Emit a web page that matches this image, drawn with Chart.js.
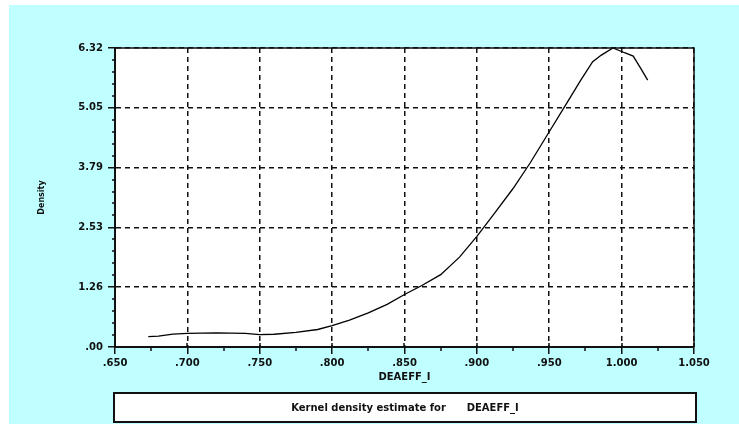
<!DOCTYPE html>
<html>
<head>
<meta charset="utf-8">
<title>Kernel density estimate for DEAEFF_I</title>
<script src="https://cdn.jsdelivr.net/npm/chart.js@4.4.0/dist/chart.umd.min.js"></script>
<style>
  html, body { margin: 0; padding: 0; background: #fff; }
  #wrap { position: relative; width: 739px; height: 424px; }
</style>
</head>
<body>
<div id="wrap"><canvas id="kde" width="739" height="424"></canvas></div>
<script>
// values
const efficiency = [0.673, 0.680, 0.690, 0.700, 0.720, 0.740, 0.750, 0.760, 0.775, 0.790,
                    0.800, 0.812, 0.825, 0.838, 0.850, 0.862, 0.875, 0.888, 0.900, 0.912,
                    0.925, 0.937, 0.950, 0.962, 0.972, 0.980, 0.986, 0.994, 1.002, 1.008,
                    1.013, 1.018];
const density = [0.22, 0.23, 0.27, 0.29, 0.30, 0.29, 0.26, 0.27, 0.31, 0.37,
                 0.45, 0.57, 0.72, 0.90, 1.11, 1.30, 1.53, 1.90, 2.34, 2.82,
                 3.35, 3.90, 4.55, 5.15, 5.65, 6.03, 6.17, 6.32, 6.22, 6.15,
                 5.90, 5.64];

const xTickValues = [0.65, 0.70, 0.75, 0.80, 0.85, 0.90, 0.95, 1.00, 1.05];
const xTickLabels = ['.650', '.700', '.750', '.800', '.850', '.900', '.950', '1.000', '1.050'];
const yTickValues = [0, 1.264, 2.528, 3.792, 5.056, 6.32];
const yTickLabels = ['.00', '1.26', '2.53', '3.79', '5.05', '6.32'];

const seriesLabel = 'Kernel density estimate for      DEAEFF_I';

const ink = '#111';
const tickFont = { family: 'DejaVu Sans', size: 10, weight: 'bold' };

// background, frame, minor ticks and the boxed caption under the axis
const framePlugin = {
    id: 'frame',
    beforeDraw(chart) {
        const ctx = chart.ctx;
        const a = chart.chartArea;
        ctx.save();
        ctx.fillStyle = 'rgb(191,255,255)';
        ctx.fillRect(9, 5, chart.width - 9, chart.height - 5);
        ctx.fillStyle = '#fff';
        ctx.fillRect(a.left, a.top, a.right - a.left, a.bottom - a.top);
        ctx.restore();
    },
    afterDraw(chart) {
        const ctx = chart.ctx;
        const a = chart.chartArea;
        const xs = chart.scales.x;
        const ys = chart.scales.y;
        ctx.save();
        ctx.strokeStyle = ink;

        // top and right edge of the plot
        ctx.lineWidth = 1.5;
        ctx.beginPath();
        ctx.moveTo(a.left, a.top);
        ctx.lineTo(a.right, a.top);
        ctx.lineTo(a.right, a.bottom);
        ctx.stroke();

        // minor ticks
        ctx.beginPath();
        for (let i = 0; i < xTickValues.length - 1; i++) {
            const px = Math.round(xs.getPixelForValue((xTickValues[i] + xTickValues[i + 1]) / 2));
            ctx.moveTo(px, a.bottom);
            ctx.lineTo(px, a.bottom + 4);
        }
        for (let i = 0; i < yTickValues.length - 1; i++) {
            for (let k = 1; k < 5; k++) {
                const v = yTickValues[i] + (yTickValues[i + 1] - yTickValues[i]) * k / 5;
                const py = Math.round(ys.getPixelForValue(v));
                ctx.moveTo(a.left - 3, py);
                ctx.lineTo(a.left, py);
            }
        }
        // major x ticks poke a little into the plot
        xTickValues.forEach(v => {
            const px = Math.round(xs.getPixelForValue(v));
            ctx.moveTo(px, a.bottom - 4);
            ctx.lineTo(px, a.bottom);
        });
        ctx.stroke();

        // caption box
        const bx = a.left - 1, by = a.bottom + 46;
        const bw = a.right + 2 - bx, bh = chart.height - 2 - by;
        ctx.fillStyle = '#fff';
        ctx.fillRect(bx, by, bw, bh);
        ctx.lineWidth = 2;
        ctx.strokeRect(bx, by, bw, bh);
        ctx.fillStyle = ink;
        ctx.font = 'bold 10px "DejaVu Sans"';
        ctx.textAlign = 'center';
        ctx.textBaseline = 'middle';
        ctx.fillText(chart.data.datasets[0].label, bx + bw / 2, by + bh / 2 + 1);
        ctx.restore();
    }
};

const ctx = document.getElementById('kde').getContext('2d');
new Chart(ctx, {
    type: 'line',
    data: {
        datasets: [{
            label: seriesLabel,
            data: efficiency.map((x, i) => ({ x: x, y: density[i] })),
            borderColor: '#000',
            borderWidth: 1.3,
            pointRadius: 0,
            tension: 0,
            fill: false
        }]
    },
    options: {
        responsive: false,
        animation: false,
        devicePixelRatio: 1,
        layout: { padding: { left: 0, top: 48, right: 45, bottom: 41 } },
        plugins: {
            legend: { display: false },
            tooltip: { enabled: false }
        },
        scales: {
            x: {
                type: 'linear',
                min: 0.65,
                max: 1.05,
                afterBuildTicks: s => { s.ticks = xTickValues.map(v => ({ value: v })); },
                afterFit: s => { s.height = 36; },
                ticks: {
                    callback: (v, i) => xTickLabels[i],
                    font: tickFont,
                    color: ink,
                    padding: 3,
                    maxRotation: 0,
                    autoSkip: false
                },
                grid: {
                    color: ink,
                    lineWidth: 1.5,
                    tickColor: ink,
                    tickWidth: 1.5,
                    tickLength: 7
                },
                border: { color: ink, width: 2, dash: [5, 4] },
                title: {
                    display: true,
                    text: 'DEAEFF_I',
                    font: tickFont,
                    color: ink,
                    padding: 0
                }
            },
            y: {
                type: 'linear',
                min: 0,
                max: 6.32,
                afterBuildTicks: s => { s.ticks = yTickValues.map(v => ({ value: v })); },
                afterFit: s => { s.width = 115; },
                ticks: {
                    callback: (v, i) => yTickLabels[i],
                    font: tickFont,
                    color: ink,
                    padding: 5,
                    autoSkip: false
                },
                grid: {
                    color: ink,
                    lineWidth: 1.5,
                    tickColor: ink,
                    tickWidth: 1.5,
                    tickLength: 7
                },
                border: { color: ink, width: 2, dash: [5, 4] },
                title: {
                    display: true,
                    text: 'Density',
                    font: { family: 'DejaVu Sans', size: 8, weight: 'bold' },
                    color: ink,
                    padding: { top: 37, bottom: 0 }
                }
            }
        }
    },
    plugins: [framePlugin]
});
</script>
</body>
</html>
